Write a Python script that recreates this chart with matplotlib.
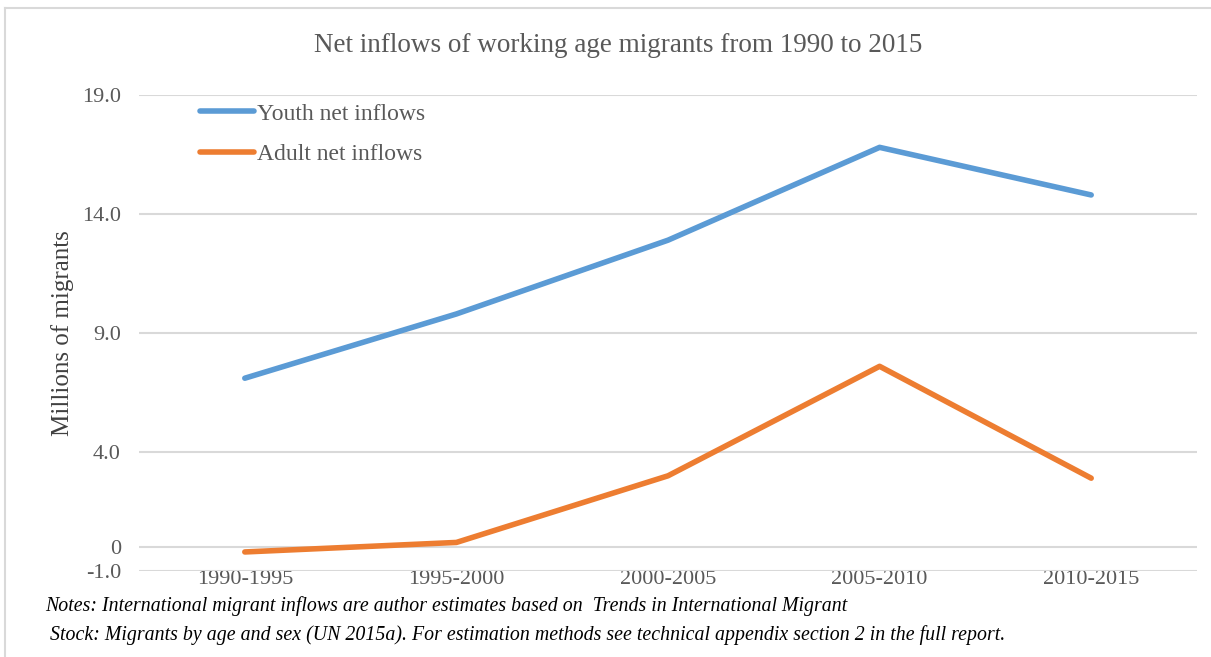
import matplotlib.pyplot as plt
from matplotlib.lines import Line2D

periods = ['1990-1995', '1995-2000', '2000-2005', '2005-2010', '2010-2015']
youth = [7.1, 9.8, 12.9, 16.8, 14.8]
adult = [-0.2, 0.2, 3.0, 7.6, 2.9]
ytick_vals = [-1.0, 0, 4.0, 9.0, 14.0, 19.0]
ytick_labels = ['-1.0', '0', '4.0', '9.0', '14.0', '19.0']

plt.rcParams['font.family'] = ['Liberation Serif', 'DejaVu Serif']

fig = plt.figure(figsize=(12.11, 6.57), dpi=100)
W, H = 1211, 657
ax = fig.add_axes([139 / W, 86 / H, (1197 - 139) / W, (571 - 95) / H])

x = range(len(periods))
ax.plot(x, youth, color='#5B9BD5', lw=4, solid_capstyle='round', label='Youth net inflows')
ax.plot(x, adult, color='#ED7D31', lw=4, solid_capstyle='round', label='Adult net inflows')

ax.set_xlim(-0.5, len(periods) - 0.5)
ax.set_ylim(-1, 19)
ax.set_yticks(ytick_vals)
ax.set_yticklabels(ytick_labels)
ax.set_xticks(list(x))
ax.set_xticklabels(periods)
ax.tick_params(length=0, labelsize=16, labelcolor='#595959')
ax.tick_params(axis='y', pad=13)
ax.tick_params(axis='x', pad=-1)
ax.grid(axis='y', color='#d9d9d9', lw=1.5)
ax.set_axisbelow(True)
for s in ax.spines.values():
    s.set_visible(False)

ax.set_ylabel('Millions of migrants', fontsize=18, color='#404040')
ax.yaxis.set_label_coords(-0.061, 0.5)
fig.text(618 / W, 1 - 45 / H, 'Net inflows of working age migrants from 1990 to 2015',
         ha='center', va='center', fontsize=19.5, color='#595959')

ax.legend(loc='upper left', bbox_to_anchor=(0.0577, 0.983), frameon=False, fontsize=17,
          labelcolor='#595959', handlelength=2.3, handletextpad=0.13, labelspacing=0.8,
          borderaxespad=0, borderpad=0)

# outer chart frame
fig.add_artist(Line2D([5 / W, 5 / W], [0, 1 - 8 / H], transform=fig.transFigure, color='#d9d9d9', lw=1.5))
fig.add_artist(Line2D([5 / W, 1], [1 - 8 / H, 1 - 8 / H], transform=fig.transFigure, color='#d9d9d9', lw=1.5))

fig.text(45 / W, 1 - 606 / H,
         'Notes: International migrant inflows are author estimates based on  Trends in International Migrant',
         ha='left', va='center', fontsize=14.3, style='italic', color='black')
fig.text(50 / W, 1 - 635 / H,
         'Stock: Migrants by age and sex (UN 2015a). For estimation methods see technical appendix section 2 in the full report.',
         ha='left', va='center', fontsize=14.3, style='italic', color='black')

fig.savefig('out.png', dpi=100)
